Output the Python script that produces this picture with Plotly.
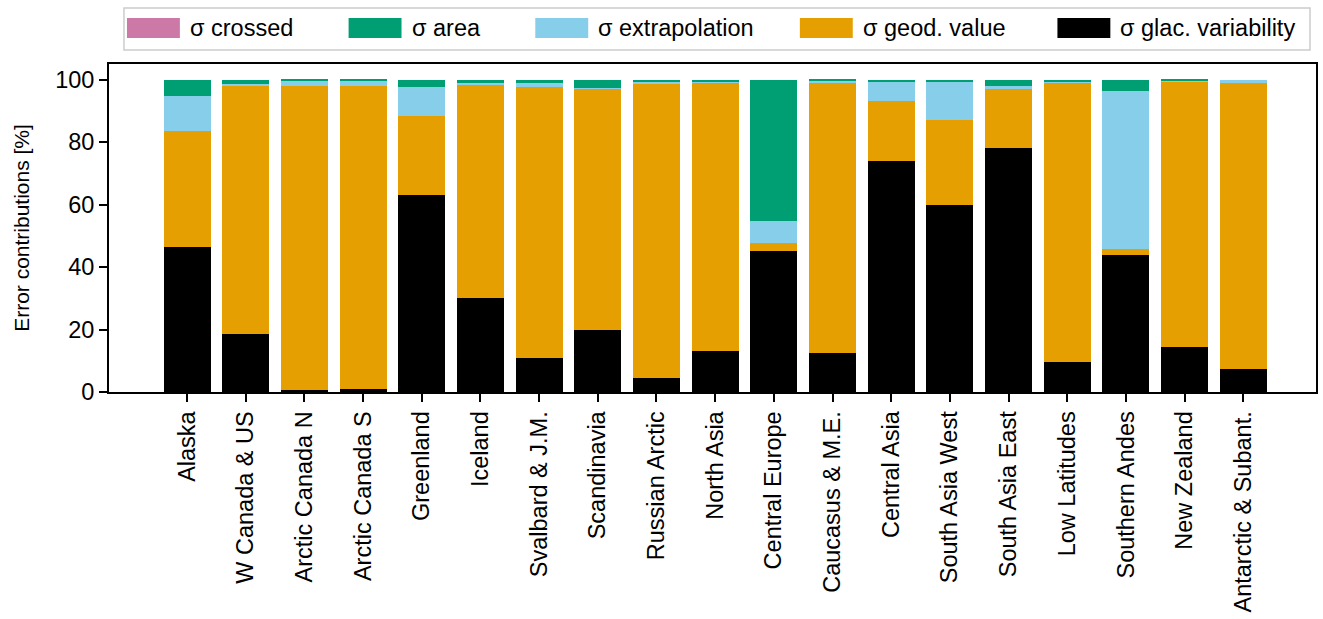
import plotly.graph_objects as go

# Regions and error-source contributions (percent, stacked bottom to top)
regions = [
    "Alaska", "W Canada & US", "Arctic Canada N", "Arctic Canada S", "Greenland",
    "Iceland", "Svalbard & J.M.", "Scandinavia", "Russian Arctic", "North Asia",
    "Central Europe", "Caucasus & M.E.", "Central Asia", "South Asia West",
    "South Asia East", "Low Latitudes", "Southern Andes", "New Zealand",
    "Antarctic & Subant.",
]
glac_variability = [46.3, 18.5, 0.6, 1.0, 63.0, 30.0, 11.0, 19.8, 4.4, 13.1,
                    45.0, 12.6, 73.8, 60.0, 78.1, 9.7, 43.8, 14.4, 7.3]
geod_value = [37.4, 79.6, 97.5, 96.8, 25.5, 68.4, 86.5, 77.3, 94.4, 86.0,
              2.8, 86.5, 19.4, 27.1, 19.2, 89.4, 2.1, 85.1, 91.6]
extrapolation = [10.9, 0.4, 1.5, 1.9, 9.1, 0.4, 1.3, 0.3, 0.6, 0.4,
                 6.8, 0.5, 6.3, 12.3, 0.5, 0.4, 50.6, 0.3, 1.1]
area = [5.4, 1.5, 0.4, 0.3, 2.4, 1.2, 1.2, 2.6, 0.6, 0.5,
        45.4, 0.4, 0.5, 0.6, 2.2, 0.5, 3.5, 0.2, 0.0]
crossed = [0.0, 0.0, 0.0, 0.0, 0.0, 0.0, 0.0, 0.0, 0.0, 0.0,
           0.0, 0.0, 0.0, 0.0, 0.0, 0.0, 0.0, 0.0, 0.0]

series = [
    ("σ glac. variability", glac_variability, "#000000"),
    ("σ geod. value", geod_value, "#E69F00"),
    ("σ extrapolation", extrapolation, "#87CEEB"),
    ("σ area", area, "#009E73"),
    ("σ crossed", crossed, "#CC79A7"),
]

FONT = "Liberation Sans, Arial, Helvetica, sans-serif"
W, H = 1323, 619
L, R, T, B = 109, 1318, 64, 392  # plot area in pixels

fig = go.Figure()
for name, vals, color in series:
    fig.add_trace(go.Bar(
        x=list(range(len(regions))), y=vals, name=name,
        marker=dict(color=color, line=dict(width=0)),
        showlegend=False,
    ))


def px_x(p):
    return (p - L) / (R - L)


def px_y(p):
    return (B - p) / (B - T)


shapes = []
annotations = []

# Legend frame across the top
shapes.append(dict(type="rect", xref="paper", yref="paper",
                   x0=px_x(124), x1=px_x(1312), y0=px_y(50), y1=px_y(8),
                   line=dict(color="#cccccc", width=1.5), fillcolor="white"))

legend_order = ["σ crossed", "σ area", "σ extrapolation", "σ geod. value",
                "σ glac. variability"]
legend_x = [127, 349, 536, 801, 1059]
colors = {n: c for n, _, c in series}
for name, x0 in zip(legend_order, legend_x):
    shapes.append(dict(type="rect", xref="paper", yref="paper",
                       x0=px_x(x0), x1=px_x(x0 + 53), y0=px_y(38), y1=px_y(18),
                       line=dict(width=0), fillcolor=colors[name]))
    annotations.append(dict(xref="paper", yref="paper", x=px_x(x0 + 61), y=px_y(28),
                            text=name, showarrow=False, xanchor="left", yanchor="middle",
                            font=dict(family=FONT, size=23.5, color="#000000")))

fig.update_layout(
    width=W, height=H,
    margin=dict(l=L, r=W - R, t=T, b=H - B),
    barmode="stack", bargap=0.2,
    plot_bgcolor="white", paper_bgcolor="white",
    font=dict(family=FONT, size=23.5, color="#000000"),
    shapes=shapes, annotations=annotations,
    xaxis=dict(
        range=[-1.33, 19.24],
        tickmode="array", tickvals=list(range(len(regions))), ticktext=regions,
        tickangle=-90, ticks="outside", ticklen=8, tickwidth=1.5, tickcolor="#000000",
        showline=True, linecolor="#000000", linewidth=1.8, mirror=True,
        showgrid=False, zeroline=False,
        tickfont=dict(family=FONT, size=23.5),
    ),
    yaxis=dict(
        range=[0, 105], tickvals=[0, 20, 40, 60, 80, 100],
        ticks="outside", ticklen=8, tickwidth=1.5, tickcolor="#000000",
        showline=True, linecolor="#000000", linewidth=1.8, mirror=True,
        showgrid=False, zeroline=False,
        title=dict(text="Error contributions [%]", font=dict(family=FONT, size=21), standoff=20),
        tickfont=dict(family=FONT, size=23.5),
    ),
)

fig.write_html("out.html")
